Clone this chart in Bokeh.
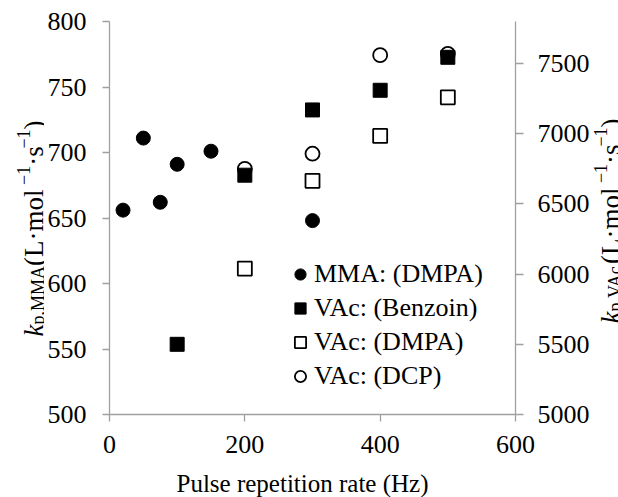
import math
from bokeh.plotting import figure
from bokeh.layouts import row, column
from bokeh.models import Range1d, LinearAxis, FixedTicker, Label, Legend, LegendItem
from bokeh.embed import file_html
from bokeh.resources import INLINE

# ---- data ----
mma_x = [20, 50, 75, 100, 150, 300]
mma_y = [656, 711, 662, 691, 701, 648]          # left axis k_p,MMA

benz_x = [100, 200, 300, 400, 500]
benz_y = [5500, 6705, 7170, 7310, 7545]        # right axis k_p,VAc

dmpa_x = [200, 300, 400, 500]
dmpa_y = [6040, 6665, 6985, 7260]

dcp_x = [200, 300, 400, 500]
dcp_y = [6750, 6858, 7560, 7570]

x_ticks = [0, 200, 400, 600]
left_ticks = [500, 550, 600, 650, 700, 750, 800]
right_ticks = [5000, 5500, 6000, 6500, 7000, 7500]

legend_labels = ["MMA: (DMPA)", "VAc: (Benzoin)", "VAc: (DMPA)", "VAc: (DCP)"]
x_title = "Pulse repetition rate (Hz)"

FONT = "Liberation Serif"
FS = "26px"
AX = "#a0a0a0"

# layout geometry (canvas pixels)
LW, RW, TOPH, BOTH = 44, 26, 467, 30
MW = 618 - LW - RW
FRAME_L, FRAME_R, FRAME_T, FRAME_B = 107, 517, 21, 414

p = figure(width=MW, height=TOPH, x_range=Range1d(0, 600), y_range=Range1d(500, 800),
           output_backend="svg", toolbar_location=None,
           min_border_left=FRAME_L - LW, min_border_right=(LW + MW) - FRAME_R,
           min_border_top=FRAME_T, min_border_bottom=TOPH - FRAME_B)
p.extra_y_ranges = {"r": Range1d(5000, 7800)}
p.outline_line_color = None
p.xgrid.grid_line_color = None
p.ygrid.grid_line_color = None

def style_axis(ax, ticks, tick_out, standoff):
    ax.ticker = FixedTicker(ticks=ticks)
    ax.axis_line_color = AX
    ax.axis_line_width = 1.3
    ax.major_tick_line_color = AX
    ax.major_tick_line_width = 1.3
    ax.major_tick_in = 0
    ax.major_tick_out = tick_out
    ax.minor_tick_line_color = None
    ax.major_label_text_font = FONT
    ax.major_label_text_font_size = FS
    ax.major_label_text_color = "black"
    ax.major_label_standoff = standoff

style_axis(p.xaxis[0], x_ticks, 7, 14)
style_axis(p.yaxis[0], left_ticks, 7, 16)
raxis = LinearAxis(y_range_name="r")
style_axis(raxis, right_ticks, 8, 14)
p.add_layout(raxis, "right")

# ---- glyphs ----
r_dcp = p.scatter(dcp_x, dcp_y, y_range_name="r", marker="circle", size=14,
                  fill_color="white", line_color="black", line_width=1.8)
r_dmpa = p.scatter(dmpa_x, dmpa_y, y_range_name="r", marker="square", size=14,
                   fill_color="white", line_color="black", line_width=1.8)
r_benz = p.scatter(benz_x, benz_y, y_range_name="r", marker="square", size=14,
                   fill_color="black", line_color="black")
r_mma = p.scatter(mma_x, mma_y, marker="circle", size=14,
                  fill_color="black", line_color="black")

legend = Legend(items=[LegendItem(label=legend_labels[0], renderers=[r_mma]),
                       LegendItem(label=legend_labels[1], renderers=[r_benz]),
                       LegendItem(label=legend_labels[2], renderers=[r_dmpa]),
                       LegendItem(label=legend_labels[3], renderers=[r_dcp])],
                location=(177, 23), padding=0, margin=0, spacing=4,
                glyph_width=28, glyph_height=28, label_height=28, label_standoff=0,
                border_line_color=None, background_fill_alpha=0,
                label_text_font=FONT, label_text_font_size=FS, label_text_color="black")
p.add_layout(legend)

# ---- blank figures holding the axis titles ----
def blank(w, h):
    f = figure(width=w, height=h, x_range=Range1d(0, 1), y_range=Range1d(0, 1),
               x_axis_type=None, y_axis_type=None, output_backend="svg",
               toolbar_location=None, min_border=0)
    f.outline_line_color = None
    f.xgrid.grid_line_color = None
    f.ygrid.grid_line_color = None
    return f

WID = {' ': 0.25, '(': 0.333, ')': 0.333, 'L': 0.611, '·': 0.25, 'm': 0.778, 'o': 0.5,
       'l': 0.278, 's': 0.389, '−': 0.564, '1': 0.5, 'p': 0.5, ',': 0.25, 'M': 0.889,
       'A': 0.722, 'V': 0.722, 'c': 0.444, 'k': 0.444}

def vertical_title(f, x0, y0, pieces):
    y = y0
    for text, size, style, shift in pieces:
        f.add_layout(Label(x=x0 + shift, y=y, x_units="screen", y_units="screen", text=text,
                           angle=math.pi / 2, text_align="left", text_baseline="alphabetic",
                           text_font=FONT, text_font_size=f"{size}px", text_font_style=style,
                           text_color="black"))
        y += sum(WID.get(ch, 0.5) for ch in text) * size

def pieces_for(sub):
    return [("k", 27, "italic", 0), (sub, 18, "normal", 4), (" (L·mol", 27, "normal", 0),
            ("−1", 18, "normal", -10), ("·s", 27, "normal", 0), ("−1", 18, "normal", -10),
            (")", 27, "normal", 0)]

# the side figures' frames are aligned with the main frame (rows 21..414)
lf = blank(LW, TOPH)
vertical_title(lf, 33, FRAME_B - 336, pieces_for("p,MMA"))

rf = blank(RW, TOPH)
vertical_title(rf, 610 - (LW + MW), FRAME_B - 323, pieces_for("p,VAc"))

bf = blank(618, BOTH)
bf.add_layout(Label(x=302, y=14, x_units="screen", y_units="screen",
                    text=x_title, text_align="center", text_baseline="alphabetic",
                    text_font=FONT, text_font_size="25px", text_color="black"))

layout = column(row(lf, p, rf, spacing=0), bf, spacing=0)
open("out.html", "w").write(file_html(layout, INLINE))
